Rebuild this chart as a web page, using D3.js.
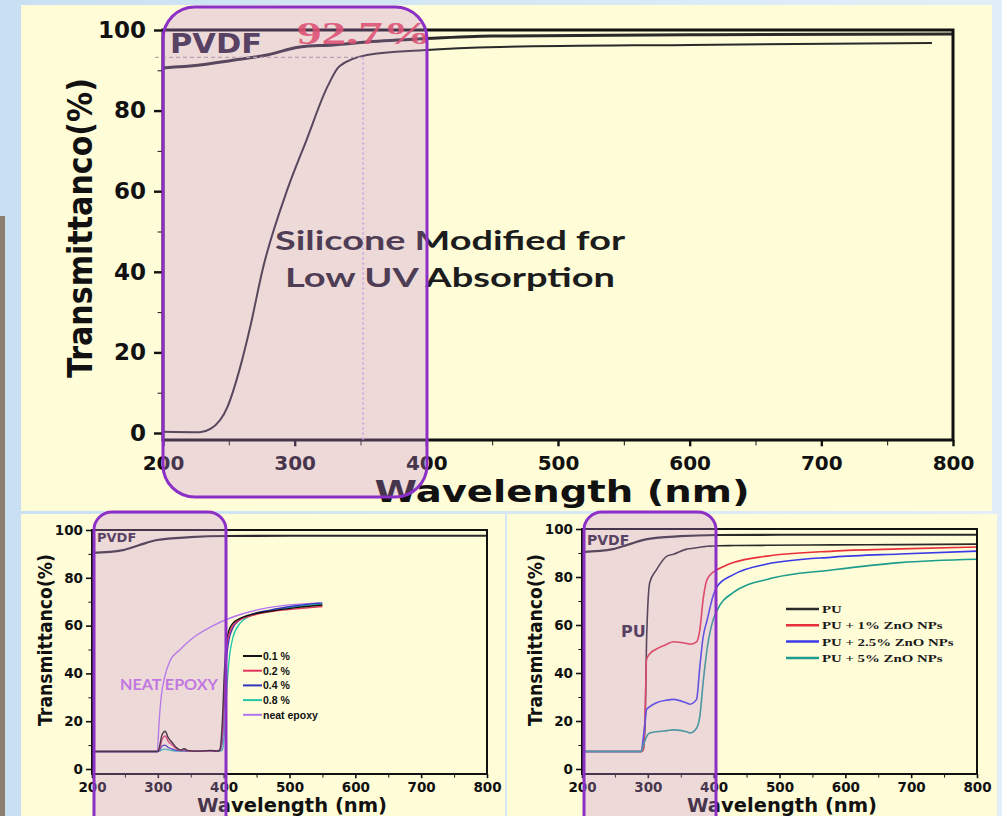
<!DOCTYPE html>
<html>
<head>
<meta charset="utf-8">
<script src="https://cdn.jsdelivr.net/npm/d3@7"></script>
<style>
  body { margin: 0; background: #d8eaf6; }
  svg { display: block; }
  .tick text { font-family: "DejaVu Sans", sans-serif; font-weight: bold; fill: #111; }
  .tick line { stroke: #111; }
</style>
</head>
<body>
<svg id="chart" width="1002" height="816"></svg>
<script>
// data
// top: silicone vs PVDF
const siliconeWl = [200, 228, 236, 249, 258, 266, 276, 294, 309, 325, 334, 355, 397, 456, 600, 784];
const siliconeT  = [0.3, 0.2, 1, 6.5, 15.6, 26, 41, 60, 72.7, 86, 91, 93.8, 95, 95.8, 96.3, 96.8];
const pvdfTopWl = [200, 228, 253, 279, 304, 329, 355, 397, 450, 600, 800];
const pvdfTopT  = [90.6, 91.3, 92.5, 93.8, 95.8, 96.3, 97, 97.8, 98.5, 98.8, 99];

// bottom panels share this PVDF trace
const pvdfWl = [200, 247, 270, 299, 349, 405, 500, 650, 800];
const pvdfT  = [90.4, 91.6, 93.5, 95.8, 97, 97.5, 97.6, 97.6, 97.6];

// bottom-left: epoxy
const epoxyNames = ["0.1 %", "0.2 %", "0.4 %", "0.8 %"];
const epoxyWl = [200, 300, 303, 306, 311, 316, 322, 328, 335, 340, 345, 350, 360, 370, 380, 390, 394, 398, 401, 404, 408, 414, 425, 440, 470, 510, 550];
const epoxy01 = [7.3, 7.3, 10, 14, 15.8, 13, 11, 9, 8, 8.5, 7.8, 7.6, 7.5, 7.6, 7.8, 7.5, 8, 20, 40, 53, 58, 61, 63, 64.5, 66, 67.5, 68.6];
const epoxy02 = [7.3, 7.3, 9, 12, 13.8, 11.5, 10, 8.5, 7.8, 8, 7.6, 7.5, 7.5, 7.5, 7.6, 7.5, 7.8, 15, 35, 50, 56, 60, 62.5, 64, 65.8, 67, 68];
const epoxy04 = [7.3, 7.3, 8, 9.5, 10, 9, 8.3, 7.8, 7.6, 7.6, 7.5, 7.5, 7.5, 7.5, 7.5, 7.5, 7.6, 12, 28, 45, 54, 59, 62.5, 64.5, 66.5, 68.3, 69.5];
const epoxy08 = [7.3, 7.3, 7.5, 8, 8.3, 8, 7.7, 7.5, 7.5, 7.5, 7.5, 7.5, 7.5, 7.5, 7.5, 7.5, 7.5, 8, 15, 30, 45, 55, 61, 64, 66, 68, 69];
const neatWl = [200, 299, 302, 305, 310, 318, 334, 354, 384, 414, 466, 546];
const neatT  = [7.3, 7.3, 20, 30, 38, 45, 50, 55, 60, 63.6, 67.4, 69.5];

// bottom-right: PU + ZnO
const puNames = ["PU", "PU + 1% ZnO NPs", "PU + 2.5% ZnO NPs", "PU + 5% ZnO NPs"];
const puWl = [200, 290, 293, 296, 298, 303, 313, 329, 339, 359, 364, 374, 379, 384, 390, 399, 405, 430, 481, 582, 683, 800];
const pu0  = [7.3, 7.3, 8, 20, 52.7, 77.8, 83, 88.7, 89.5, 91.6, 91.8, 92.2, 92.4, 92.6, 92.8, 92.9, 93, 93.1, 93.2, 93.4, 93.5, 93.7];
const pu1  = [7.3, 7.3, 8, 24.7, 45.6, 48, 50, 52, 53, 52.3, 52, 53, 58, 70.7, 79, 82, 83, 86, 88.7, 90.8, 91.7, 92.5];
const pu25 = [7.3, 7.3, 13, 20, 24.7, 26, 27.6, 28.7, 29, 27.5, 27, 29, 42.7, 55, 62, 72, 76, 81, 85.4, 88.3, 89.6, 90.8];
const pu5  = [7.3, 7.3, 10, 12, 13.5, 15, 15.5, 16, 16.3, 15.5, 15, 17, 22, 36, 50, 62, 66, 73.6, 79, 83, 86, 87.4];

const yTicks = [0, 20, 40, 60, 80, 100];
const xTicks = [200, 300, 400, 500, 600, 700, 800];

const svg = d3.select("#chart");

// background
const defs = svg.append("defs");
const bg = defs.append("linearGradient").attr("id", "bg").attr("x1", 0).attr("x2", 1);
bg.append("stop").attr("offset", 0).attr("stop-color", "#c9e0f2");
bg.append("stop").attr("offset", 1).attr("stop-color", "#e2eff8");
svg.append("rect").attr("width", 1002).attr("height", 816).attr("fill", "url(#bg)");
svg.append("rect").attr("x", 0).attr("y", 216).attr("width", 5).attr("height", 600).attr("fill", "#8c7e70");
svg.append("rect").attr("x", 21).attr("y", 5).attr("width", 971).attr("height", 506).attr("fill", "#fffcd8");
svg.append("rect").attr("x", 21).attr("y", 514).attr("width", 484).attr("height", 302).attr("fill", "#fffcd8");
svg.append("rect").attr("x", 507).attr("y", 514).attr("width", 490).attr("height", 302).attr("fill", "#fffcd8");

function panel(o) {
  const g = svg.append("g");
  const x = d3.scaleLinear().domain([200, 800]).range(o.xr);
  const y = d3.scaleLinear().domain([0, 100]).range(o.yr);
  const line = d3.line().x(d => x(d[0])).y(d => y(d[1])).curve(d3.curveMonotoneX);

  o.series.forEach(s => {
    g.append("path")
      .attr("d", line(d3.zip(s.wl, s.t)))
      .attr("fill", "none")
      .attr("stroke", s.color)
      .attr("stroke-width", s.w || o.lw);
  });

  // frame
  g.append("rect")
    .attr("x", x(200)).attr("y", y(100))
    .attr("width", x(800) - x(200)).attr("height", o.base - y(100))
    .attr("fill", "none").attr("stroke", "#111").attr("stroke-width", o.fw);

  // minor ticks
  g.append("g").attr("transform", `translate(${x(200)},0)`)
    .call(d3.axisLeft(y).tickValues(d3.range(10, 100, 20)).tickSize(o.tick * 0.6).tickFormat(""))
    .call(a => a.select(".domain").remove());
  g.append("g").attr("transform", `translate(0,${o.base})`)
    .call(d3.axisBottom(x).tickValues(d3.range(250, 800, 100)).tickSize(o.tick * 0.6).tickFormat(""))
    .call(a => a.select(".domain").remove());

  const ya = g.append("g").attr("transform", `translate(${x(200)},0)`)
    .call(d3.axisLeft(y).tickValues(yTicks).tickSize(o.tick).tickPadding(o.pad));
  ya.select(".domain").remove();
  ya.selectAll("text").style("font-size", o.fs + "px");
  ya.selectAll("line").attr("stroke-width", o.fw * 0.8);

  const xa = g.append("g").attr("transform", `translate(0,${o.base})`)
    .call(d3.axisBottom(x).tickValues(xTicks).tickSize(o.tick * 0.7).tickPadding(o.xpad));
  xa.select(".domain").remove();
  xa.selectAll("text").style("font-size", (o.xfs || o.fs) + "px");
  xa.selectAll("line").attr("stroke-width", o.fw * 0.8);

  // titles
  g.append("text")
    .attr("transform", `translate(${o.yt[0]},${o.yt[1]}) rotate(-90)`)
    .attr("text-anchor", "middle")
    .attr("textLength", o.yt[2]).attr("lengthAdjust", "spacingAndGlyphs")
    .style("font-family", "'DejaVu Sans', sans-serif").style("font-weight", "bold")
    .style("font-size", o.yt[3] + "px").attr("fill", "#111")
    .text("Transmittanco(%)");
  g.append("text")
    .attr("x", o.xt[0]).attr("y", o.xt[1])
    .attr("text-anchor", "middle")
    .attr("textLength", o.xt[2]).attr("lengthAdjust", "spacingAndGlyphs")
    .style("font-family", "'DejaVu Sans', sans-serif").style("font-weight", "bold")
    .style("font-size", o.xt[3] + "px").attr("fill", "#111")
    .text("Wavelength (nm)");

  return { g, x, y };
}

function label(g, txt, xx, yy, size, color, opts = {}) {
  const t = g.append("text").attr("x", xx).attr("y", yy)
    .attr("text-anchor", opts.anchor || "start")
    .style("font-family", opts.font || "'DejaVu Sans', sans-serif")
    .style("font-weight", "bold")
    .style("font-size", size + "px")
    .attr("fill", color)
    .text(txt);
  if (opts.len) t.attr("textLength", opts.len).attr("lengthAdjust", "spacingAndGlyphs");
  return t;
}

function overlay(xx, yy, w, h, r) {
  svg.append("rect").attr("x", xx).attr("y", yy).attr("width", w).attr("height", h)
    .attr("rx", r).attr("ry", r)
    .attr("fill", "rgb(196,140,214)").attr("fill-opacity", 0.3)
    .attr("stroke", "#8c2fc6").attr("stroke-width", 3);
}

// ---- top chart
const topC = panel({
  xr: [163, 953], yr: [433, 30], base: 440, lw: 2.2, fw: 3, tick: 9, pad: 8, xpad: 9, fs: 23, xfs: 20,
  yt: [92, 228, 300, 34], xt: [562, 502, 375, 30],
  series: [
    { wl: pvdfTopWl, t: pvdfTopT, color: "#2a2a2a", w: 3 },
    { wl: siliconeWl, t: siliconeT, color: "#2a2a2a", w: 2 }
  ]
});
// guide lines for 92.7% at ~350 nm
topC.g.append("line")
  .attr("x1", 155).attr("x2", topC.x(352)).attr("y1", topC.y(93.2)).attr("y2", topC.y(93.2))
  .attr("stroke", "#b8aca8").attr("stroke-dasharray", "4,3").attr("stroke-width", 1.2);
topC.g.append("line")
  .attr("x1", topC.x(352)).attr("x2", topC.x(352)).attr("y1", topC.y(93.2)).attr("y2", 440)
  .attr("stroke", "#d4b8e8").attr("stroke-dasharray", "2,3").attr("stroke-width", 2);
label(topC.g, "92.7%", 297, 44, 32, "#e8384a", { font: "'Liberation Serif', serif", len: 135 }).attr("fill-opacity", 0.9);
label(topC.g, "PVDF", 170, 53, 27, "#2a2333", { len: 92 });
label(topC.g, "Silicone Modified for", 450, 250, 27, "#1c1c1c", { anchor: "middle", font: "Lato, sans-serif", len: 350 });
label(topC.g, "Low UV Absorption", 450, 287, 27, "#1c1c1c", { anchor: "middle", font: "Lato, sans-serif", len: 330 });
overlay(163, 7, 264, 490, 32);

// ---- bottom-left chart
const bl = panel({
  xr: [92, 487], yr: [769, 530], base: 774, lw: 1.4, fw: 2, tick: 6, pad: 3, xpad: 4, fs: 13.5,
  yt: [52, 640, 172, 19], xt: [292, 812, 190, 20],
  series: [
    { wl: pvdfWl, t: pvdfT, color: "#2a2a2a", w: 2.2 },
    { wl: neatWl, t: neatT, color: "#b275f0" },
    { wl: epoxyWl, t: epoxy08, color: "#25c7a8" },
    { wl: epoxyWl, t: epoxy04, color: "#3434c0" },
    { wl: epoxyWl, t: epoxy02, color: "#e2345e" },
    { wl: epoxyWl, t: epoxy01, color: "#111111" }
  ]
});
const blColors = ["#111111", "#e2345e", "#3434c0", "#25c7a8", "#b275f0"];
const blLabels = epoxyNames.concat(["neat epoxy"]);
const blLeg = bl.g.append("g").attr("transform", "translate(243,656)");
blLabels.forEach((n, i) => {
  blLeg.append("line").attr("x1", 0).attr("x2", 19).attr("y1", i * 14.7).attr("y2", i * 14.7)
    .attr("stroke", blColors[i]).attr("stroke-width", 2);
  label(blLeg, n, 20, i * 14.7 + 4, 10.5, "#111", { font: "'Liberation Sans', Arial, sans-serif" });
});
label(bl.g, "PVDF", 97, 542, 13, "#2a2333");
label(bl.g, "NEAT EPOXY", 120, 690, 14.5, "#c070e4", { font: "Lato, sans-serif", len: 98 });
overlay(94, 512, 132, 330, 18);

// ---- bottom-right chart
const puColors = ["#2a2a2a", "#e8303c", "#3a3ae6", "#1c9c8c"];
const br = panel({
  xr: [582, 977], yr: [769, 529], base: 774, lw: 1.6, fw: 2, tick: 6, pad: 3, xpad: 4, fs: 13.5,
  yt: [542, 640, 172, 19], xt: [782, 812, 190, 20],
  series: [
    { wl: pvdfWl, t: pvdfT, color: "#2a2a2a", w: 2.2 },
    { wl: puWl, t: pu0, color: puColors[0] },
    { wl: puWl, t: pu1, color: puColors[1] },
    { wl: puWl, t: pu25, color: puColors[2] },
    { wl: puWl, t: pu5, color: puColors[3] }
  ]
});
const brLeg = br.g.append("g").attr("transform", "translate(786,609)");
puNames.forEach((n, i) => {
  brLeg.append("line").attr("x1", 0).attr("x2", 33).attr("y1", i * 16.3).attr("y2", i * 16.3)
    .attr("stroke", puColors[i]).attr("stroke-width", 2.5);
  label(brLeg, n, 36, i * 16.3 + 4, 11, "#1a1a1a", { font: "'Liberation Serif', serif" })
    .attr("transform", `translate(36,0) scale(1.35,1) translate(-36,0)`);
});
label(br.g, "PVDF", 587, 545, 14, "#2a2333");
label(br.g, "PU", 621, 637, 16, "#2a2333");
overlay(584, 512, 132, 330, 18);
</script>
</body>
</html>
